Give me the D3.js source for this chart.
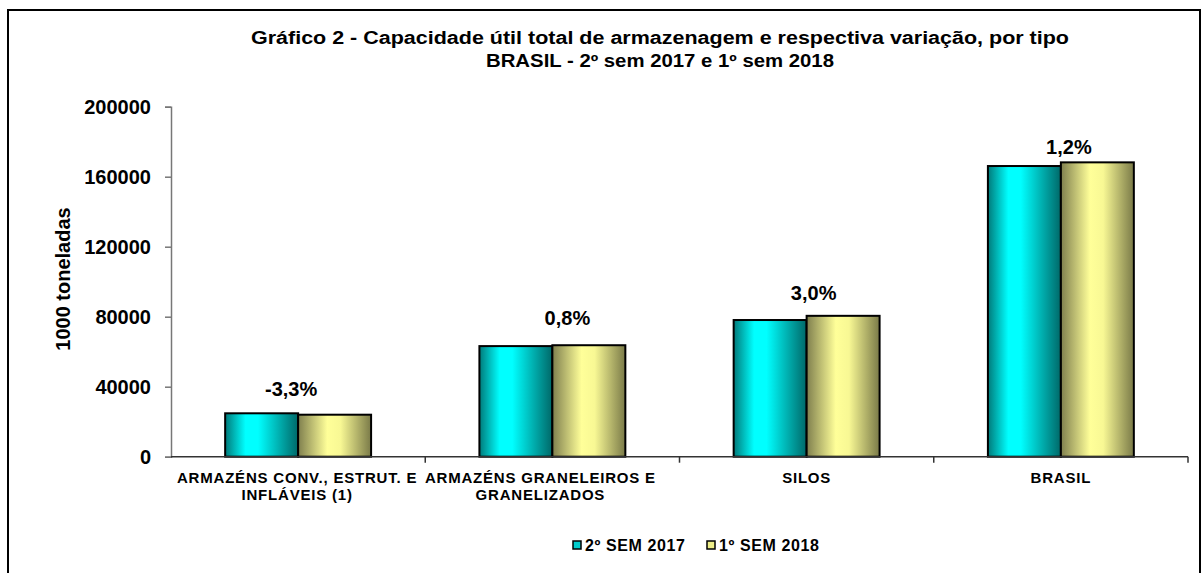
<!DOCTYPE html>
<html>
<head>
<meta charset="utf-8">
<script src="https://cdn.jsdelivr.net/npm/d3@7"></script>
<style>
  html, body { margin: 0; padding: 0; background: #fff; }
  text { font-family: "Liberation Sans", Arial, sans-serif; font-weight: bold; fill: #000; }
</style>
</head>
<body>
<svg id="chart" width="1202" height="573"></svg>
<script>
// ---- data ----
const titleLines = ["Gráfico 2 - Capacidade útil total de armazenagem e respectiva variação, por tipo",
                    "BRASIL - 2º sem 2017 e 1º sem 2018"];
const categories = ["ARMAZÉNS CONV., ESTRUT. E|INFLÁVEIS (1)", "ARMAZÉNS GRANELEIROS E|GRANELIZADOS", "SILOS", "BRASIL"];
const seriesNames = ["2º SEM 2017", "1º SEM 2018"];
const sem2_2017 = [24800, 63200, 78100, 166100];
const sem1_2018 = [24000, 63700, 80500, 168200];
const variation = ["-3,3%", "0,8%", "3,0%", "1,2%"];
const yTicks = [0, 40000, 80000, 120000, 160000, 200000];
const yTitle = "1000 toneladas";
// manual label offsets (relative to group centre / top of taller bar)
const labelDx = [-7, 15, 7, 8];
const labelDy = [-17, -20, -16, -8];
const catLabelDx = [-1, -12, 0, 0];
const titleWidths = [818, 348];

// ---- layout ----
const svg = d3.select("#chart");
const X0 = 171, X1 = 1188, Y0 = 456.7, Y1 = 106.7;

svg.append("rect").attr("x", 8).attr("y", 10).attr("width", 1192).attr("height", 600)
   .attr("fill", "#fff").attr("stroke", "#000").attr("stroke-width", 2);

const defs = svg.append("defs");
function grad(id, stops) {
  const g = defs.append("linearGradient").attr("id", id).attr("x1", "0%").attr("x2", "100%").attr("y1", "0%").attr("y2", "0%");
  stops.forEach(s => g.append("stop").attr("offset", s[0]).attr("stop-color", s[1]));
}
grad("gCyan", [["0%", "#007a7a"], ["28%", "#00ffff"], ["45%", "#00ffff"], ["100%", "#006868"]]);
grad("gYellow", [["0%", "#7f7f4e"], ["40%", "#ffff99"], ["58%", "#f8f894"], ["100%", "#7a7a48"]]);
const fills = ["url(#gCyan)", "url(#gYellow)"];
const legendFills = ["#00cccc", "#eeee88"];

const x = d3.scaleBand().domain(categories).range([X0, X1]).paddingInner(0.426).paddingOuter(0.213);
const xs = d3.scaleBand().domain([0, 1]).range([0, x.bandwidth()]);
const y = d3.scaleLinear().domain([0, 200000]).range([Y0, Y1]);

// title
svg.selectAll("text.title").data(titleLines).join("text").attr("class", "title")
  .attr("x", 660).attr("y", (d, i) => 44 + i * 23)
  .attr("text-anchor", "middle").style("font-size", "18px")
  .attr("textLength", (d, i) => titleWidths[i]).attr("lengthAdjust", "spacingAndGlyphs")
  .text(d => d);

// y axis
const yAxis = svg.append("g").attr("transform", `translate(${X0},0)`)
  .call(d3.axisLeft(y).tickValues(yTicks).tickSize(6).tickPadding(14).tickFormat(d3.format("d")));
yAxis.select(".domain").attr("stroke", "#777").attr("stroke-width", 1.5);
yAxis.selectAll(".tick line").attr("stroke", "#777").attr("stroke-width", 1.5);
yAxis.selectAll(".tick text").style("font-size", "20px").attr("font-family", null).attr("fill", "#000");

// y title
svg.append("text").attr("transform", `translate(70,279) rotate(-90)`)
  .attr("text-anchor", "middle").style("font-size", "20px").text(yTitle);

// bars
const series = [sem2_2017, sem1_2018];
const groups = svg.selectAll("g.cat").data(categories).join("g").attr("class", "cat")
  .attr("transform", d => `translate(${x(d)},0)`);
groups.each(function(c, i) {
  d3.select(this).selectAll("rect").data(series.map(s => s[i])).join("rect")
    .attr("x", (d, j) => xs(j)).attr("width", xs.bandwidth())
    .attr("y", d => y(d)).attr("height", d => Y0 - y(d))
    .attr("fill", (d, j) => fills[j]).attr("stroke", "#000").attr("stroke-width", 2);
});

// x axis
const xAxisG = svg.append("g");
xAxisG.append("line").attr("x1", X0).attr("x2", X1).attr("y1", Y0).attr("y2", Y0)
  .attr("stroke", "#333").attr("stroke-width", 1.5);
const bounds = categories.map(c => x(c) - x.step() * x.paddingInner() / 2).concat([X1]);
xAxisG.selectAll("line.tk").data(bounds.slice(1)).join("line").attr("class", "tk")
  .attr("x1", d => d).attr("x2", d => d).attr("y1", Y0).attr("y2", Y0 + 6)
  .attr("stroke", "#333").attr("stroke-width", 1.5);

// category labels
svg.selectAll("text.cat").data(categories).join("text").attr("class", "cat")
  .attr("text-anchor", "middle").style("font-size", "15px").style("letter-spacing", "0.8px")
  .attr("transform", (d, i) => `translate(${x(d) + x.bandwidth() / 2 + catLabelDx[i]},483)`)
  .each(function(d) {
    d3.select(this).selectAll("tspan").data(d.split("|")).join("tspan")
      .attr("x", 0).attr("dy", (t, k) => k === 0 ? 0 : 17).text(t => t);
  });

// variation labels
svg.selectAll("text.var").data(variation).join("text").attr("class", "var")
  .attr("text-anchor", "middle").style("font-size", "20px")
  .attr("x", (d, i) => x(categories[i]) + x.bandwidth() / 2 + labelDx[i])
  .attr("y", (d, i) => y(Math.max(sem2_2017[i], sem1_2018[i])) + labelDy[i])
  .text(d => d);

// legend
const legendX = [573, 707];
const lg = svg.selectAll("g.leg").data(seriesNames).join("g").attr("class", "leg")
  .attr("transform", (d, i) => `translate(${legendX[i]},541)`);
lg.append("rect").attr("width", 8).attr("height", 8).attr("fill", (d, i) => legendFills[i])
  .attr("stroke", "#000").attr("stroke-width", 1.5);
lg.append("text").attr("x", 12).attr("y", 10).style("font-size", "16px").style("letter-spacing", "0.6px").text(d => d);
</script>
</body>
</html>
